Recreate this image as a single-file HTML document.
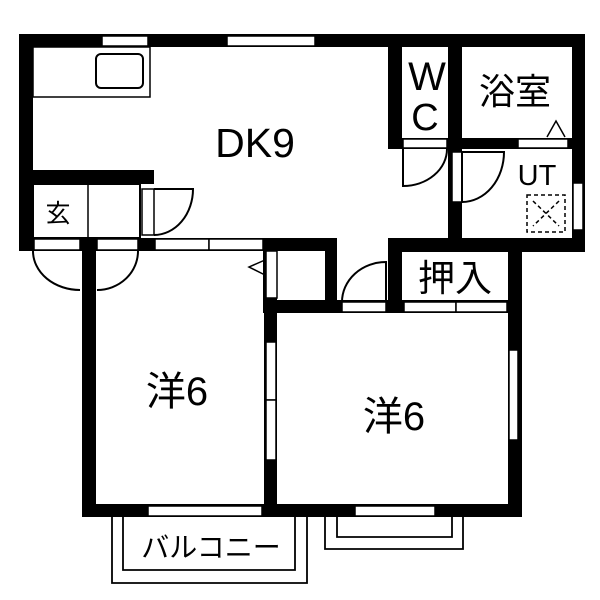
<!DOCTYPE html>
<html><head><meta charset="utf-8"><style>
html,body{margin:0;padding:0;background:#fff;}
svg{display:block;}
text{font-family:"Liberation Sans","Noto Sans CJK JP",sans-serif;fill:#000;}
</style></head><body>
<svg width="600" height="600" viewBox="0 0 600 600" xmlns="http://www.w3.org/2000/svg">
<rect width="600" height="600" fill="#fff"/>
<g fill="#000">
<rect x="19" y="34" width="566" height="13"/>
<rect x="19" y="34" width="14" height="217"/>
<rect x="19" y="170" width="135" height="14"/>
<rect x="19" y="238" width="318" height="13"/>
<rect x="388" y="34" width="14" height="115"/>
<rect x="388" y="138" width="197" height="11"/>
<rect x="448" y="34" width="14" height="218"/>
<rect x="572" y="34" width="13" height="218"/>
<rect x="388" y="238" width="197" height="14"/>
<rect x="388" y="238" width="14" height="75"/>
<rect x="508" y="238" width="14" height="279"/>
<rect x="325" y="238" width="12" height="75"/>
<rect x="263" y="238" width="14" height="75"/>
<rect x="263" y="300" width="259" height="13"/>
<rect x="82" y="238" width="14" height="279"/>
<rect x="82" y="504" width="440" height="13"/>
<rect x="264" y="300" width="13" height="217"/>
</g>
<g fill="#fff" stroke="#000" stroke-width="1.5">
<rect x="102" y="36" width="46" height="10"/>
<rect x="227" y="36" width="88" height="10"/>
<rect x="33" y="184" width="107" height="54" stroke-width="2"/>
<line x1="88" y1="184" x2="88" y2="238"/>
<rect x="142" y="189" width="12" height="46"/>
<rect x="34" y="239" width="46" height="11"/>
<rect x="97" y="239" width="41" height="11"/>
<rect x="155" y="239" width="54" height="11"/>
<rect x="209" y="239" width="54" height="11"/>
<rect x="277" y="251" width="48" height="49" stroke="none"/>
<rect x="266" y="251" width="11" height="47"/>
<rect x="403" y="139" width="44" height="9"/>
<rect x="452" y="152" width="10" height="50"/>
<rect x="518" y="139" width="50" height="9"/>
<rect x="573" y="183" width="10" height="47"/>
<rect x="342" y="302" width="44" height="10"/>
<rect x="404" y="302" width="52" height="10"/>
<rect x="456" y="302" width="51" height="10"/>
<rect x="266" y="342" width="10" height="58"/>
<rect x="266" y="400" width="10" height="60"/>
<rect x="509" y="350" width="9" height="90"/>
<rect x="148" y="506" width="114" height="10"/>
<rect x="355" y="506" width="80" height="10"/>
</g>
<g fill="none" stroke="#000" stroke-width="2">
<rect x="33" y="47" width="117" height="50" stroke-width="1.5"/>
<rect x="96" y="54" width="47" height="34" rx="5"/>
<path d="M154 189 H193 A39 46 0 0 1 154 235"/>
<path d="M33 251 A47 39 0 0 0 80 290"/>
<path d="M97 290 A41 39 0 0 0 138 251"/>
<path d="M403 149 V186 A44 37 0 0 0 447 149"/>
<path d="M462 152 V202 A42 50 0 0 0 504 152 H462"/>
<path d="M386 302 V262 A44 40 0 0 0 342 302"/>
<path d="M265 260 L249 267 L265 275" stroke-width="1.5"/>
<path d="M547 137 L556 121 L565 137" stroke-width="1.5"/>
<rect x="527" y="195" width="38" height="37" stroke-dasharray="4,3" stroke-width="1.5"/>
<path d="M533 201 L559 226 M559 201 L533 226" stroke-dasharray="4,3" stroke-width="1.5"/>
<path d="M112 517 V583 H307 V517" stroke-width="1.8"/>
<path d="M123 517 V570 H295 V517" stroke-width="1.8"/>
<path d="M325 517 V549 H463 V517" stroke-width="1.8"/>
<path d="M337 517 V537 H452 V517" stroke-width="1.8"/>
</g>
<text x="255" y="157" font-size="41" text-anchor="middle">DK9</text>
<text x="427" y="90" font-size="40" text-anchor="middle">W</text>
<text x="425" y="130" font-size="38" text-anchor="middle">C</text>
<text x="515" y="104" font-size="36" text-anchor="middle">浴室</text>
<text x="537" y="185" font-size="29" text-anchor="middle">UT</text>
<text x="58" y="222" font-size="25" text-anchor="middle">玄</text>
<text x="455" y="291" font-size="37" text-anchor="middle">押入</text>
<text x="177" y="405" font-size="40" text-anchor="middle">洋6</text>
<text x="394" y="430" font-size="40" text-anchor="middle">洋6</text>
<text x="211" y="557" font-size="28" text-anchor="middle">バルコニー</text>
</svg>
</body></html>
